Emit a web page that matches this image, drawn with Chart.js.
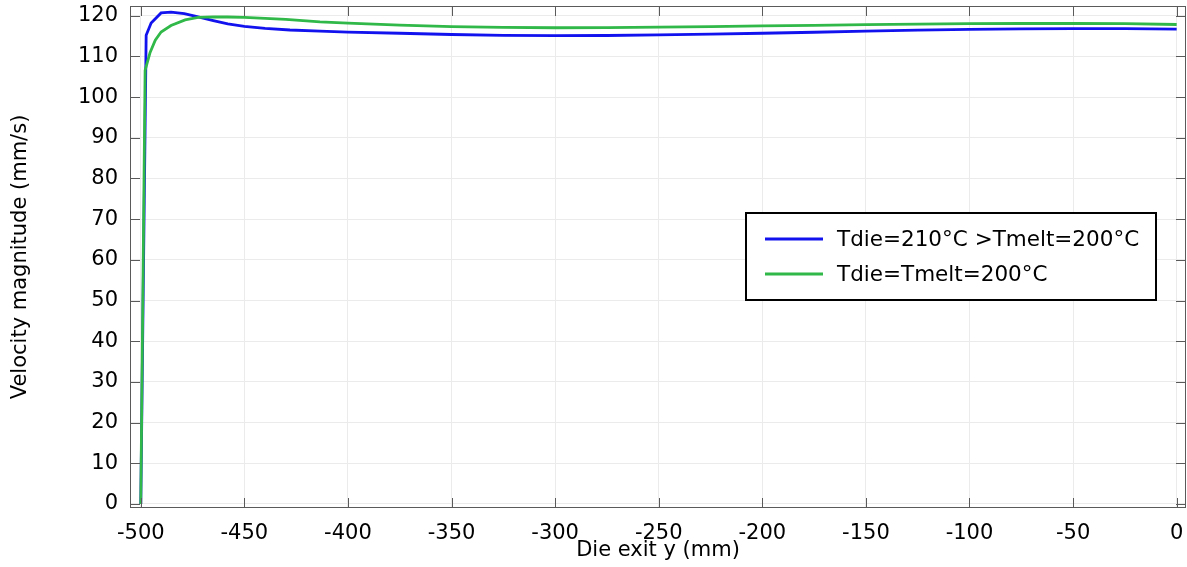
<!DOCTYPE html>
<html>
<head>
<meta charset="utf-8">
<script src="https://cdn.jsdelivr.net/npm/chart.js@4"></script>
<style>
  html, body { margin: 0; padding: 0; background: #fff; }
  #wrap { width: 1187px; height: 567px; }
</style>
</head>
<body>
<div id="wrap"><canvas id="myChart"></canvas></div>
<script>
// Series data
const blueLabel = 'Tdie=210°C >Tmelt=200°C';
const blueX = [-500, -497.4, -495, -490.2, -485.4, -479, -472.3, -465, -458, -450, -440, -428, -413.5, -400, -375, -350, -325, -300, -275, -250, -225, -200, -175, -150, -125, -100, -75, -50, -25, 0];
const blueY = [0, 115.2, 118.2, 120.7, 120.9, 120.5, 119.7, 118.8, 118.0, 117.4, 116.9, 116.5, 116.2, 116.0, 115.7, 115.4, 115.2, 115.1, 115.15, 115.3, 115.5, 115.7, 115.95, 116.2, 116.45, 116.65, 116.8, 116.85, 116.85, 116.7];

const greenLabel = 'Tdie=Tmelt=200°C';
const greenX = [-500, -497.9, -495.5, -493, -490.2, -485.4, -478.6, -472.3, -465, -458, -450, -430, -413.5, -400, -375, -350, -325, -300, -275, -250, -225, -200, -175, -150, -125, -100, -75, -50, -25, 0];
const greenY = [0, 106.6, 111, 114, 116, 117.6, 119.0, 119.6, 119.75, 119.7, 119.6, 119.1, 118.5, 118.2, 117.7, 117.35, 117.15, 117.05, 117.1, 117.2, 117.35, 117.5, 117.65, 117.8, 117.95, 118.05, 118.1, 118.1, 118.05, 117.85];

// Tick labels
const xTicks = [-500, -450, -400, -350, -300, -250, -200, -150, -100, -50, 0];
const yTicks = [0, 10, 20, 30, 40, 50, 60, 70, 80, 90, 100, 110, 120];

const toPoints = (xs, ys) => xs.map((x, i) => ({ x: x, y: ys[i] }));

// Frame around the plot with inward ticks
const framePlugin = {
    id: 'frame',
    afterDatasetsDraw(chart) {
        const { ctx, chartArea: a, scales } = chart;
        const len = 10;
        ctx.save();
        ctx.strokeStyle = '#5a5a5a';
        ctx.lineWidth = 1;
        ctx.strokeRect(a.left + 0.5, a.top + 0.5, a.right - a.left - 1, a.bottom - a.top - 1);
        ctx.beginPath();
        xTicks.forEach(v => {
            const px = Math.round(scales.x.getPixelForValue(v)) + 0.5;
            ctx.moveTo(px, a.bottom); ctx.lineTo(px, a.bottom - len);
            ctx.moveTo(px, a.top); ctx.lineTo(px, a.top + len);
        });
        yTicks.forEach(v => {
            const py = Math.round(scales.y.getPixelForValue(v)) + 0.5;
            ctx.moveTo(a.left, py); ctx.lineTo(a.left + len, py);
            ctx.moveTo(a.right, py); ctx.lineTo(a.right - len, py);
        });
        ctx.stroke();
        ctx.restore();
    }
};

// Boxed legend placed inside the plot
const boxLegend = {
    id: 'boxLegend',
    afterDraw(chart, args, opts) {
        const ctx = chart.ctx;
        const x = opts.x, y = opts.y, w = opts.w, h = opts.h;
        ctx.save();
        ctx.fillStyle = '#fff';
        ctx.fillRect(x, y, w, h);
        ctx.strokeStyle = '#000';
        ctx.lineWidth = 2;
        ctx.strokeRect(x, y, w, h);
        ctx.font = '21.5px "DejaVu Sans"';
        ctx.textBaseline = 'middle';
        chart.data.datasets.forEach((ds, i) => {
            const ly = y + 26 + i * 35;
            ctx.strokeStyle = ds.borderColor;
            ctx.lineWidth = 3;
            ctx.beginPath();
            ctx.moveTo(x + 19, ly);
            ctx.lineTo(x + 77, ly);
            ctx.stroke();
            ctx.fillStyle = '#000';
            ctx.fillText(ds.label, x + 91, ly + 1);
        });
        ctx.restore();
    }
};

const font = { family: '"DejaVu Sans", sans-serif', size: 21 };

// Pin the plot area to the reference's box
const noPad = s => { s.paddingTop = 0; s.paddingBottom = 0; s.paddingLeft = 0; s.paddingRight = 0; };

new Chart(document.getElementById('myChart'), {
    type: 'line',
    data: {
        datasets: [
            {
                label: blueLabel,
                data: toPoints(blueX, blueY),
                borderColor: '#1212ee',
                borderWidth: 2.8,
                pointRadius: 0,
                tension: 0,
                order: 1,
                fill: false
            },
            {
                label: greenLabel,
                data: toPoints(greenX, greenY),
                borderColor: '#30b848',
                borderWidth: 2.8,
                pointRadius: 0,
                tension: 0,
                order: 0,
                fill: false
            }
        ]
    },
    options: {
        responsive: true,
        maintainAspectRatio: false,
        animation: false,
        layout: { padding: { top: 6, right: 1, left: 0, bottom: 0 } },
        plugins: {
            legend: { display: false },
            tooltip: { enabled: false },
            boxLegend: { x: 746, y: 213, w: 410, h: 87 }
        },
        scales: {
            x: {
                type: 'linear',
                min: -505.2,
                max: 4.5,
                afterBuildTicks: s => { s.ticks = xTicks.map(v => ({ value: v })); },
                afterFit: s => { s.height = 59; noPad(s); },
                grid: { color: '#ebebeb', drawTicks: false },
                border: { display: false },
                ticks: { color: '#000', font: font, padding: 13, maxRotation: 0 },
                title: { display: true, text: 'Die exit y (mm)', color: '#000', font: font, padding: { top: 0, bottom: 4 } }
            },
            y: {
                min: -1,
                max: 122.4,
                afterBuildTicks: s => { s.ticks = yTicks.map(v => ({ value: v })); },
                afterFit: s => { s.width = 130; noPad(s); },
                grid: { color: '#ebebeb', drawTicks: false },
                border: { display: false },
                ticks: { color: '#000', font: font, padding: 12 },
                title: { display: true, text: 'Velocity magnitude (mm/s)', color: '#000', font: font, padding: { top: 8, bottom: 0 } }
            }
        }
    },
    plugins: [framePlugin, boxLegend]
});
</script>
</body>
</html>
